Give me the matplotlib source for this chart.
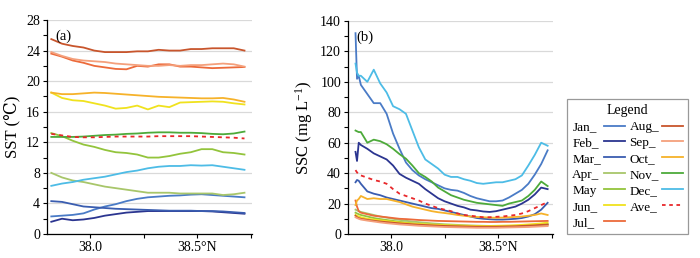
import matplotlib
matplotlib.use("Agg")
import matplotlib.pyplot as plt
from matplotlib.lines import Line2D
from matplotlib.ticker import MultipleLocator, FixedLocator

plt.rcParams['font.family'] = ['Liberation Serif', 'DejaVu Serif']
plt.rcParams['mathtext.fontset'] = 'custom'
plt.rcParams['mathtext.rm'] = 'Liberation Serif'
plt.rcParams['mathtext.it'] = 'Liberation Serif:italic'

months = ["Jan", "Feb", "Mar", "Apr", "May", "Jun", "Jul",
          "Aug", "Sep", "Oct", "Nov", "Dec", "Ave"]
legend_labels = ["Jan_", "Feb_", "Mar_", "Apr_", "May", "Jun_", "Jul_",
                 "Aug_", "Sep_", "Oct_", "Nov_", "Dec_", "Ave_"]
colors = ["#4A7BC6", "#2B3590", "#3A5DB0", "#A8C66A", "#93C43C", "#F0E21E",
          "#EC6A3A", "#C8552C", "#F4A07C", "#F6B22A", "#4DAA3A", "#4DBCE6", "#E8282B"]

# Panel (a) SST
lat_a = [37.82, 37.87, 37.92, 37.97, 38.02, 38.07, 38.12, 38.17, 38.22, 38.27,
         38.32, 38.37, 38.42, 38.47, 38.52, 38.57, 38.62, 38.67, 38.72]
sst_jan = [2.3, 2.4, 2.5, 2.7, 3.2, 3.6, 3.9, 4.3, 4.6, 4.8, 4.9, 5.0, 5.05, 5.15, 5.2, 5.1, 5.0, 4.9, 4.8]
sst_feb = [1.6, 2.0, 1.8, 1.9, 2.1, 2.4, 2.6, 2.8, 2.9, 3.0, 3.0, 3.0, 3.0, 3.0, 3.0, 2.95, 2.85, 2.75, 2.65]
sst_mar = [4.3, 4.2, 3.9, 3.6, 3.5, 3.4, 3.3, 3.25, 3.2, 3.15, 3.1, 3.05, 3.05, 3.05, 3.0, 3.0, 2.95, 2.85, 2.75]
sst_apr = [8.0, 7.4, 7.0, 6.8, 6.5, 6.2, 6.0, 5.8, 5.6, 5.4, 5.4, 5.4, 5.3, 5.3, 5.3, 5.3, 5.1, 5.2, 5.4]
sst_may = [13.2, 12.8, 12.2, 11.7, 11.4, 11.0, 10.7, 10.6, 10.4, 10.0, 10.0, 10.2, 10.5, 10.7, 11.1, 11.1, 10.7, 10.6, 10.4]
sst_jun = [18.5, 17.8, 17.5, 17.4, 17.1, 16.8, 16.4, 16.5, 16.8, 16.3, 16.8, 16.6, 17.2, 17.25, 17.3, 17.35, 17.3, 17.1, 16.95]
sst_jul = [23.6, 23.2, 22.7, 22.4, 22.0, 21.8, 21.6, 21.55, 22.0, 21.9, 22.2, 22.2, 21.9, 21.9, 21.8, 21.7, 21.75, 21.8, 21.85]
sst_aug = [25.5, 24.9, 24.6, 24.4, 24.0, 23.8, 23.8, 23.8, 23.9, 23.9, 24.1, 24.0, 24.0, 24.2, 24.2, 24.3, 24.3, 24.3, 24.0]
sst_sep = [23.8, 23.3, 22.9, 22.7, 22.6, 22.5, 22.3, 22.2, 22.1, 22.0, 22.0, 22.1, 22.0, 22.1, 22.1, 22.2, 22.3, 22.2, 21.9]
sst_oct = [18.5, 18.3, 18.3, 18.4, 18.5, 18.45, 18.35, 18.25, 18.15, 18.05, 17.95, 17.9, 17.85, 17.8, 17.75, 17.75, 17.8, 17.6, 17.3]
sst_nov = [12.7, 12.7, 12.7, 12.75, 12.85, 12.95, 13.0, 13.1, 13.15, 13.25, 13.3, 13.3, 13.25, 13.25, 13.2, 13.1, 13.05, 13.15, 13.4]
sst_dec = [6.3, 6.6, 6.8, 7.1, 7.3, 7.5, 7.8, 8.1, 8.3, 8.6, 8.8, 8.9, 8.9, 9.0, 8.95, 9.0, 8.8, 8.6, 8.4]
sst_ave = [13.1, 12.9, 12.7, 12.65, 12.65, 12.7, 12.75, 12.75, 12.75, 12.75, 12.8, 12.8, 12.8, 12.8, 12.75, 12.7, 12.65, 12.6, 12.5]

# Panel (b) SSC
lat_b = [37.835, 37.842, 37.85, 37.86, 37.89, 37.92, 37.95, 37.98, 38.01, 38.04, 38.07,
         38.10, 38.13, 38.16, 38.19, 38.22, 38.25, 38.28, 38.31, 38.34, 38.37, 38.40,
         38.43, 38.46, 38.49, 38.52, 38.55, 38.58, 38.61, 38.64, 38.67, 38.70, 38.73]
ssc_jan = [132, 102, 104, 98, 92, 86, 86, 79, 66, 56, 47, 42, 38.5, 36, 34, 32, 30, 29, 28.5, 27, 25, 23.5, 22.5, 21.5, 21.5, 22, 24, 26.5, 29, 33, 39, 46, 55]
ssc_feb = [54, 48, 60, 58.5, 56, 53, 51, 49, 45, 39.5, 37, 35, 33, 29.5, 26.5, 23.5, 21.5, 20, 18.5, 17.5, 16, 15.5, 14.8, 14.5, 15, 16, 17, 18, 20, 22.5, 26, 30.5, 29.5]
ssc_mar = [34, 35.5, 35, 33, 28, 26.5, 25.5, 24, 23, 22, 21, 20, 19, 18, 17, 16.5, 15.5, 14.5, 13.5, 12.5, 11.5, 10.5, 10, 9.7, 9.5, 9.5, 9.7, 10, 10.5, 11.5, 13, 16, 20.5]
ssc_apr = [16, 15.5, 15, 14.5, 13.5, 12.5, 11.5, 10.8, 10, 9.3, 8.7, 8.2, 7.8, 7.4, 7, 6.7, 6.4, 6.2, 6, 5.8, 5.6, 5.5, 5.4, 5.3, 5.2, 5.2, 5.2, 5.3, 5.4, 5.5, 5.6, 5.8, 6]
ssc_may = [14, 13.5, 13, 12.5, 11.5, 10.5, 9.8, 9.2, 8.6, 8, 7.5, 7, 6.6, 6.3, 6, 5.8, 5.6, 5.4, 5.2, 5, 4.9, 4.8, 4.7, 4.7, 4.7, 4.8, 4.9, 5, 5.2, 5.4, 5.6, 6, 6.5]
ssc_jun = [12.5, 12, 11.5, 11, 10, 9.5, 9, 8.5, 8, 7.6, 7.2, 6.9, 6.6, 6.4, 6.2, 6, 5.8, 5.7, 5.6, 5.5, 5.4, 5.3, 5.3, 5.3, 5.4, 5.5, 5.6, 5.8, 6, 6.3, 6.6, 7, 7.5]
ssc_jul = [22, 18, 15, 14, 13, 12, 11.5, 11, 10.5, 10, 9.8, 9.5, 9.2, 9, 8.8, 8.6, 8.5, 8.4, 8.3, 8.2, 8.1, 8, 8, 7.9, 7.9, 8, 8, 8.1, 8.2, 8.3, 8.4, 8.5, 8.6]
ssc_aug = [12, 11, 10.5, 10, 9.3, 8.7, 8.2, 7.8, 7.4, 7, 6.7, 6.4, 6.1, 5.9, 5.7, 5.5, 5.3, 5.2, 5.1, 5, 4.9, 4.8, 4.8, 4.8, 4.8, 4.9, 5, 5.1, 5.3, 5.5, 5.7, 6, 6.2]
ssc_sep = [11, 10.5, 10, 9.5, 8.8, 8.2, 7.6, 7.1, 6.7, 6.3, 6, 5.7, 5.4, 5.2, 5, 4.8, 4.6, 4.5, 4.4, 4.3, 4.2, 4.1, 4.1, 4.1, 4.1, 4.2, 4.3, 4.4, 4.5, 4.6, 4.8, 5, 5.2]
ssc_oct = [19, 22, 23, 25, 23, 23.5, 23, 23, 22, 21, 19.5, 18, 17, 16, 15, 14.3, 13.8, 13.2, 12.5, 12, 11.5, 11.2, 11, 10.8, 10.7, 10.8, 11, 11.2, 11.5, 12, 12.5, 13.5, 12.5]
ssc_nov = [68, 67.5, 67, 67, 60, 62, 61, 59, 56, 52.5, 49.5, 45, 40, 37.5, 34.5, 30.5, 28, 25.5, 24, 22.5, 21.5, 20.5, 20, 19.5, 19, 18.5, 20, 21, 22, 25, 29, 34.5, 31.5]
ssc_dec = [112, 106, 104, 104, 100, 108, 99, 93, 84, 82, 79, 68, 57, 49, 46, 43, 39, 37.5, 37.5, 36, 35, 33.5, 33, 33.5, 34, 34, 35, 36, 38.5, 45, 52, 60, 58]
ssc_ave = [42, 40.5, 39, 38.5, 37, 35.5, 34.5, 33, 29.5, 26.5, 25, 23.5, 22, 20, 18.5, 17, 16, 15, 13.5, 12.5, 12, 11.5, 11, 11, 11.3, 11.5, 12, 12.5, 13.5, 15, 17, 19, 21]

sst = [sst_jan, sst_feb, sst_mar, sst_apr, sst_may, sst_jun, sst_jul,
       sst_aug, sst_sep, sst_oct, sst_nov, sst_dec, sst_ave]
ssc = [ssc_jan, ssc_feb, ssc_mar, ssc_apr, ssc_may, ssc_jun, ssc_jul,
       ssc_aug, ssc_sep, ssc_oct, ssc_nov, ssc_dec, ssc_ave]

W, H = 700, 258
fig = plt.figure(figsize=(W / 100, H / 100), dpi=100)
ax1 = fig.add_axes([47 / W, 24 / H, 205 / W, 214 / H])
ax2 = fig.add_axes([348 / W, 24 / H, 205 / W, 213 / H])


def style(ax, ymax, major, minor, ylabel, tag):
    ax.set_xlim(37.80, 38.755)
    ax.set_ylim(0, ymax)
    for s in ['top', 'right']:
        ax.spines[s].set_visible(False)
    for s in ['left', 'bottom']:
        ax.spines[s].set_linewidth(0.9)
    ax.xaxis.set_major_locator(FixedLocator([38.0, 38.5]))
    ax.xaxis.set_minor_locator(FixedLocator([38.25, 38.75]))
    ax.set_xticklabels(["38.0", "38.5°N"])
    ax.yaxis.set_major_locator(MultipleLocator(major))
    ax.yaxis.set_minor_locator(MultipleLocator(minor))
    ax.tick_params(axis='both', which='major', direction='out', length=3, width=0.8, labelsize=10, pad=2)
    ax.tick_params(axis='both', which='minor', direction='out', length=3, width=0.8)
    ax.yaxis.grid(True, which='major', color='#D9D9D9', linewidth=0.9)
    ax.set_axisbelow(True)
    ax.set_ylabel(ylabel, fontsize=12, labelpad=4)
    ax.text(0.04, 0.955, tag, transform=ax.transAxes, fontsize=10.5, va='top', ha='left')


for i in range(len(months)):
    ls = (0, (2.2, 2.2)) if months[i] == "Ave" else '-'
    ax1.plot(lat_a, sst[i], color=colors[i], lw=1.3, ls=ls)
    ax2.plot(lat_b, ssc[i], color=colors[i], lw=1.3, ls=ls)

style(ax1, 28, 4, 2, "SST (℃)", "(a)")
style(ax2, 140, 20, 10, r"SSC (mg L$^{\mathregular{-1}}$)", "(b)")

handles = [Line2D([], [], color=colors[i], lw=1.3,
                  ls=((0, (2, 2)) if months[i] == "Ave" else '-')) for i in range(13)]
leg = fig.legend(handles, legend_labels, ncol=2, title="Legend",
                 loc='lower left', bbox_to_anchor=(567 / W, 24 / H),
                 markerfirst=False, fontsize=9.5, title_fontsize=10,
                 frameon=True, fancybox=False, edgecolor='#808080',
                 handlelength=1.55, handletextpad=0.25, columnspacing=0.35,
                 labelspacing=0.28, borderpad=0.4, borderaxespad=0)
leg.get_frame().set_linewidth(0.9)

# left-align the legend labels within each column (as in the reference)
fig.canvas.draw()
renderer = fig.canvas.get_renderer()
texts = leg.get_texts()
for col in (texts[:7], texts[7:]):
    boxes = [t.get_window_extent(renderer) for t in col]
    x0 = min(b.x0 for b in boxes)
    for t, b in zip(col, boxes):
        fig.text(x0 / fig.bbox.width, b.y0 / fig.bbox.height, t.get_text(),
                 fontsize=t.get_fontsize(), ha='left', va='bottom', zorder=10)
        t.set_alpha(0)

fig.savefig("out.png", dpi=100)
